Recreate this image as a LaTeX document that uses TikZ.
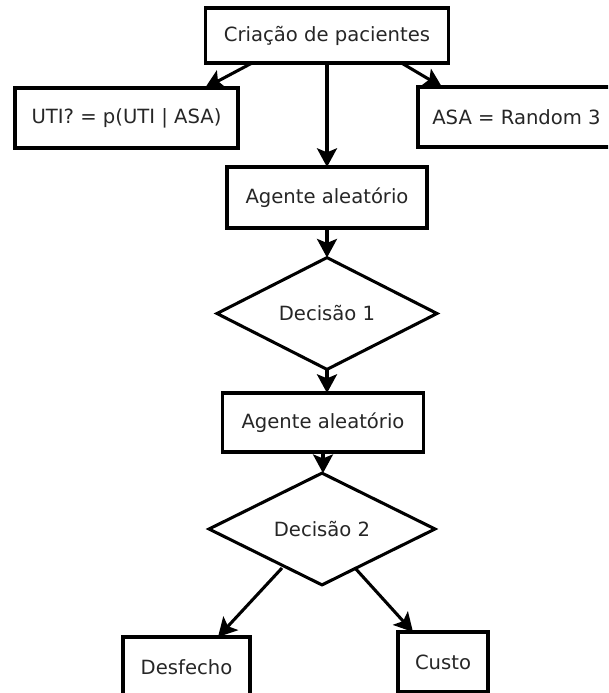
\documentclass[tikz,border=0pt]{standalone}
\usepackage{fontspec}
\setmainfont{DejaVu Sans}
\usetikzlibrary{shapes.geometric,arrows.meta,calc}
\begin{document}
\begin{tikzpicture}[x=0.75pt,y=-0.75pt, line width=2.3pt,
  every node/.style={font=\fontsize{14.7}{17}\selectfont, text=black!85},
  box/.style 2 args={draw, rectangle, inner sep=0pt, outer sep=0pt, minimum width=#1*0.75pt, minimum height=#2*0.75pt},
  dia/.style 2 args={draw, diamond, inner sep=0pt, outer sep=0pt, minimum width=#1*0.75pt, minimum height=#2*0.75pt},
  arr/.style={-{Stealth[length=14pt,width=15pt,inset=3pt]}}]
\useasboundingbox (0,0) rectangle (608,693);
\clip (0,0) rectangle (608,693);
\fill[white] (0,0) rectangle (608,693);

\node[box={243}{55}] (top) at (327,35.5) {Criação de pacientes};
\node[box={223}{60}] (uti) at (126.5,118) {UTI? = p(UTI | ASA)};
\node[box={197}{60}] (asa) at (516.5,117) {ASA = Random 3};
\node[box={200}{61}] (a1) at (327,197.5) {Agente aleatório};
\node[dia={220}{107}] (d1) at (327,313.5) {Decisão 1};
\node[box={201}{59}] (a2) at (323,422.5) {Agente aleatório};
\node[dia={226}{108}] (d2) at (322,529) {Decisão 2};
\node[box={127}{60}] (des) at (186.5,667) {Desfecho};
\node[box={90}{60}] (cus) at (443,662) {Custo};

\draw[arr] ($(top.south)+(-75,0)$) -- ($(uti.north)+(78.5,0)$);
\draw[arr] ($(top.south)+(74.5,0)$) -- ($(asa.north)+(-74.5,0)$);
\draw[arr] (top.south) -- (a1.north);
\draw[arr] (a1.south) -- (d1.north);
\draw[arr] (d1.south) -- (d1.south |- a2.north);
\draw[arr] (a2.south) -- (a2.south |- d2.north);
\draw[arr] ($(d2.center)+(-40,39)$) -- ($(des.north)+(31.5,0)$);
\draw[arr] ($(d2.center)+(33,39)$) -- ($(cus.north)+(-30,0)$);
\end{tikzpicture}
\end{document}
